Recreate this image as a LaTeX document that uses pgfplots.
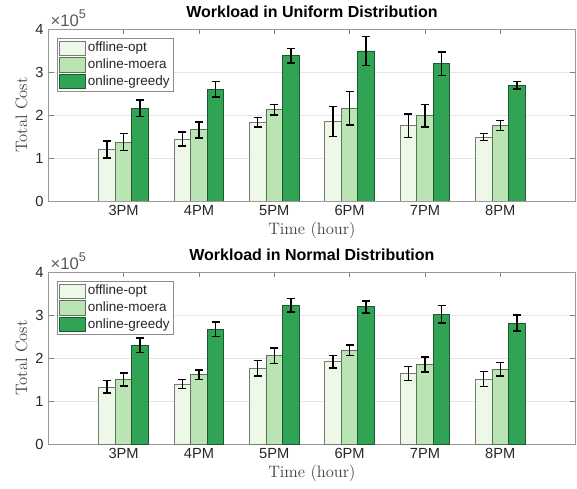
\documentclass[border=0pt]{standalone}
\usepackage{fontspec}
\setsansfont{Liberation Sans}
\usepackage{pgfplots}
\usepackage{pgfplotstable}
\pgfplotsset{compat=1.18}
\definecolor{cOpt}{HTML}{EDF8E9}
\definecolor{cMoera}{HTML}{BAE4B3}
\definecolor{cGreedy}{HTML}{31A354}
\definecolor{txt}{HTML}{262626}

% values in units of 10^5
\pgfplotstableread{
x opt opte moera moerae greedy greedye
1 1.20 0.20 1.37 0.195 2.16 0.19
2 1.44 0.165 1.655 0.185 2.60 0.185
3 1.83 0.11 2.12 0.12 3.38 0.17
4 1.85 0.35 2.16 0.39 3.49 0.34
5 1.75 0.27 1.98 0.26 3.19 0.275
6 1.49 0.08 1.755 0.12 2.69 0.09
}\uniformdata
\pgfplotstableread{
x opt opte moera moerae greedy greedye
1 1.326 0.145 1.50 0.155 2.30 0.17
2 1.395 0.11 1.61 0.115 2.67 0.165
3 1.76 0.18 2.05 0.18 3.225 0.16
4 1.91 0.145 2.18 0.125 3.19 0.14
5 1.64 0.165 1.85 0.175 3.02 0.205
6 1.51 0.17 1.74 0.155 2.81 0.185
}\normaldata

\pgfplotsset{
  mybars/.style={
    scale only axis, width=395.5pt, height=129pt,
    anchor=north west,
    xmin=0, xmax=7, ymin=0, ymax=4,
    xtick={1,...,6}, xticklabels={3PM,4PM,5PM,6PM,7PM,8PM},
    ytick={0,1,2,3,4},
    ybar, bar width=0.22,
    tick align=inside, major tick length=4pt,
    axis line style={black!40, line width=0.6pt},
    tick style={black!50, line width=0.5pt},
    ymajorgrids, grid style={black!10, line width=0.5pt},
    /pgf/number format/assume math mode=true,
    ticklabel style={font=\sffamily\fontsize{11}{13}\selectfont, text=txt},
    title style={font=\sffamily\bfseries\fontsize{12}{14}\selectfont, yshift=-1pt},
    xlabel={Time (hour)}, ylabel={Total Cost},
    label style={font=\fontsize{12.4}{14}\selectfont, text=black!75},
    ylabel style={yshift=-1pt},
    xlabel style={yshift=2pt},
    legend cell align=left,
    legend style={at={(rel axis cs:0,1)}, anchor=north west, xshift=6.5pt, yshift=-6.5pt,
      font=\sffamily\fontsize{10.1}{12}\selectfont, draw=black!45, line width=0.5pt,
      row sep=0.6pt, inner sep=1.5pt,
      nodes={inner sep=1.6pt, text=txt}},
    legend image code/.code={\draw[#1,/tikz/.cd] (0pt,-5.3pt) rectangle (19.3pt,5.3pt);},
    error bars/y dir=both, error bars/y explicit,
    error bars/error bar style={black, line width=1.1pt},
    error bars/error mark options={rotate=90, mark size=3pt, black, line width=1.1pt},
  },
  optstyle/.style={fill=cOpt, draw=cOpt!50!black, line width=0.6pt, bar shift=-0.22},
  moerastyle/.style={fill=cMoera, draw=cMoera!50!black, line width=0.6pt, bar shift=0},
  greedystyle/.style={fill=cGreedy, draw=cGreedy!55!black, line width=0.6pt, bar shift=0.22},
}
\tikzset{
  scalelab/.style={anchor=south west, inner sep=1pt, xshift=0.5pt, yshift=0.5pt,
    font=\sffamily\fontsize{12.5}{14}\selectfont, text=black!65},
}
\newcommand{\scalelabel}{×10\raisebox{0.5em}{\fontsize{9.5}{10}\selectfont 5}}

\begin{document}
\begin{tikzpicture}
\useasboundingbox (0,0) rectangle (432.75pt,-366pt);
\begin{axis}[mybars, name=top, at={(36.2pt,-21.75pt)}, title={Workload in Uniform Distribution}]
\addplot[optstyle] table[x=x, y=opt, y error=opte] {\uniformdata};
\addplot[moerastyle] table[x=x, y=moera, y error=moerae] {\uniformdata};
\addplot[greedystyle] table[x=x, y=greedy, y error=greedye] {\uniformdata};
\legend{offline-opt, online-moera, online-greedy}
\end{axis}
\node[scalelab] at (top.north west) {\scalelabel};
\begin{axis}[mybars, name=bot, at={(36.2pt,-204pt)}, title={Workload in Normal Distribution}]
\addplot[optstyle] table[x=x, y=opt, y error=opte] {\normaldata};
\addplot[moerastyle] table[x=x, y=moera, y error=moerae] {\normaldata};
\addplot[greedystyle] table[x=x, y=greedy, y error=greedye] {\normaldata};
\legend{offline-opt, online-moera, online-greedy}
\end{axis}
\node[scalelab] at (bot.north west) {\scalelabel};
\end{tikzpicture}
\end{document}
